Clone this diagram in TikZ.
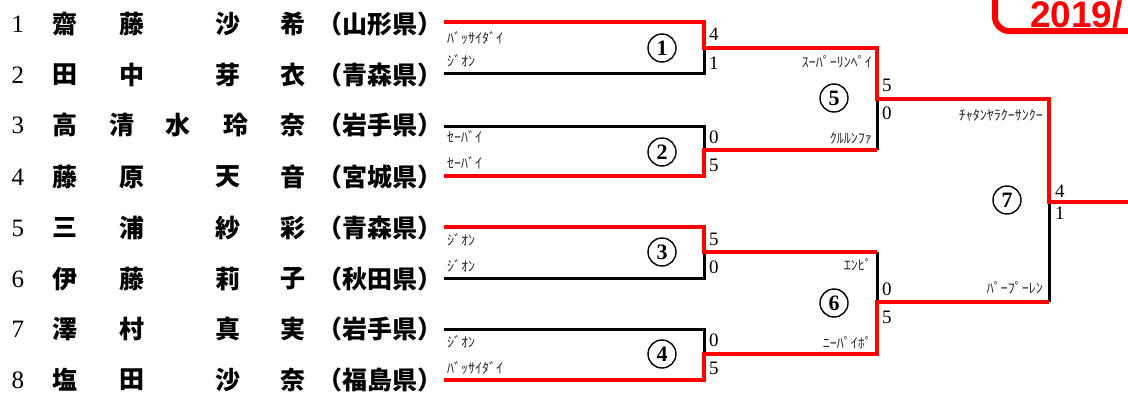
\documentclass[tikz,border=0pt]{standalone}
\usepackage{fontspec}
\newfontfamily\jp{Noto Sans CJK JP}
\newfontfamily\arialb{Liberation Sans}
\newfontfamily\tms{Liberation Serif}
\newcommand{\plrow}[7]{%
  \node[num] (num#1) at (18,#2) {#1};
  \node[nm] (a#1) at (65,#2) {#3};
  \node[nm] (b#1) at (132,#2) {#4};
  \node[nm] (c#1) at (228,#2) {#5};
  \node[nm] (d#1) at (293,#2) {#6};
  \node[nm] (p#1) at (380,#2) {#7};
}
\tikzset{
  redl/.style={draw=red, line width=4pt},
  blkl/.style={draw=black, line width=3pt},
  nm/.style={font=\jp\bfseries\fontsize{25}{25}\selectfont, inner sep=0pt},
  num/.style={font=\tms\fontsize{25}{25}\selectfont, inner sep=0pt},
  sc/.style={font=\tms\fontsize{19}{19}\selectfont, inner sep=0pt, anchor=west},
  kl/.style={font=\jp\fontsize{14}{14}\selectfont, inner sep=0pt, text=black!85, anchor=west},
  kr/.style={font=\jp\fontsize{14}{14}\selectfont, inner sep=0pt, text=black!85, anchor=east},
  mnum/.style={circle, draw, line width=1.4pt, minimum size=28pt, inner sep=0pt, font=\tms\bfseries\fontsize{22}{22}\selectfont}
}
\begin{document}
\begin{tikzpicture}[x=1pt,y=-1pt]
\useasboundingbox (0,0) rectangle (1128,399);
\clip (0,0) rectangle (1128,399);
% players
\plrow{1}{24}{齋}{藤}{沙}{希}{（山形県）}
\plrow{2}{75}{田}{中}{芽}{衣}{（青森県）}
\node[num] (num3) at (18,125) {3};
\node[nm] (a3) at (65,125) {高};
\node[nm] (b3) at (122,125) {清};
\node[nm] (e3) at (178,125) {水};
\node[nm] (c3) at (236,125) {玲};
\node[nm] (d3) at (293,125) {奈};
\node[nm] (p3) at (380,125) {（岩手県）};
\plrow{4}{177}{藤}{原}{天}{音}{（宮城県）}
\plrow{5}{228}{三}{浦}{紗}{彩}{（青森県）}
\plrow{6}{279}{伊}{藤}{莉}{子}{（秋田県）}
\plrow{7}{329}{澤}{村}{真}{実}{（岩手県）}
\plrow{8}{380}{塩}{田}{沙}{奈}{（福島県）}
% bracket coordinates
\foreach \n/\y in {1/22,2/73,3/126,4/176,5/227,6/278,7/329,8/380}{
  \coordinate (s\n) at (444,\y);
  \coordinate (e\n) at (704,\y);
}
\coordinate (m1) at (704,48);  \coordinate (q1) at (877,48);
\coordinate (m2) at (704,150); \coordinate (q2) at (877,150);
\coordinate (m3) at (704,252); \coordinate (q3) at (877,252);
\coordinate (m4) at (704,354); \coordinate (q4) at (877,354);
\coordinate (u1) at (877,99);  \coordinate (w1) at (1049,99);
\coordinate (u2) at (877,302); \coordinate (w2) at (1049,302);
\coordinate (fz) at (1049,202); \coordinate (fout) at (1140,202);
% black (losing) lines
\draw[blkl] (s2) -- (e2) -- (m1);
\draw[blkl] (s3) -- (e3) -- (m2);
\draw[blkl] (s6) -- (e6) -- (m3);
\draw[blkl] (s7) -- (e7) -- (m4);
\draw[blkl] (u1) -- (q2);
\draw[blkl] (q3) -- (u2);
\draw[blkl] (fz) -- (w2);
% red (winning) lines
\draw[redl] (s1) -- (e1) -- (m1) -- (q1) -- (u1) -- (w1) -- (fz) -- (fout);
\draw[redl] (s4) -- (e4) -- (m2) -- (q2);
\draw[redl] (s5) -- (e5) -- (m3) -- (q3);
\draw[redl] (s8) -- (e8) -- (m4) -- (q4) -- (u2) -- (w2);
% match numbers
\node[mnum] (c1) at (662,48) {1};
\node[mnum] (c2) at (662,152) {2};
\node[mnum] (c3) at (662,252) {3};
\node[mnum] (c4) at (662,354) {4};
\node[mnum] (c5) at (834,98) {5};
\node[mnum] (c6) at (834,303) {6};
\node[mnum] (c7) at (1007,200) {7};
% scores
\node[sc] (sa1) at (709,34) {4};  \node[sc] (sb1) at (709,63) {1};
\node[sc] (sa2) at (709,137) {0}; \node[sc] (sb2) at (709,165) {5};
\node[sc] (sa3) at (709,239) {5}; \node[sc] (sb3) at (709,267) {0};
\node[sc] (sa4) at (709,340) {0}; \node[sc] (sb4) at (709,368) {5};
\node[sc] (sa5) at (882,85) {5};  \node[sc] (sb5) at (882,113) {0};
\node[sc] (sa6) at (882,289) {0}; \node[sc] (sb6) at (882,317) {5};
\node[sc] (sa7) at (1055,191) {4}; \node[sc] (sb7) at (1055,213) {1};
% kata names
\node[kl] (k1) at (447,38) {ﾊﾞｯｻｲﾀﾞｲ};
\node[kl] (k2) at (447,61) {ｼﾞｵﾝ};
\node[kl] (k3) at (447,137) {ｾｰﾊﾞｲ};
\node[kl] (k4) at (447,163) {ｾｰﾊﾞｲ};
\node[kl] (k5) at (447,240) {ｼﾞｵﾝ};
\node[kl] (k6) at (447,266) {ｼﾞｵﾝ};
\node[kl] (k7) at (447,342) {ｼﾞｵﾝ};
\node[kl] (k8) at (447,368) {ﾊﾞｯｻｲﾀﾞｲ};
\node[kr] (k9) at (872,62) {ｽｰﾊﾟｰﾘﾝﾍﾟｲ};
\node[kr] (k10) at (872,138) {ｸﾙﾙﾝﾌｧ};
\node[kr] (k11) at (872,265) {ｴﾝﾋﾟ};
\node[kr] (k12) at (872,343) {ﾆｰﾊﾟｲﾎﾟ};
\node[kr] (k13) at (1043,115) {ﾁｬﾀﾝﾔﾗｸｰｻﾝｸｰ};
\node[kr] (k14) at (1043,288) {ﾊﾟｰﾌﾟｰﾚﾝ};
% title box
\draw[red, line width=6pt, rounded corners=14pt] (995,-30) -- (995,31) -- (1170,31);
\node[anchor=base west, inner sep=0pt, text=red, font=\arialb\bfseries\fontsize{37}{37}\selectfont] (title) at (1030,27) {2019/};
\end{tikzpicture}
\end{document}
